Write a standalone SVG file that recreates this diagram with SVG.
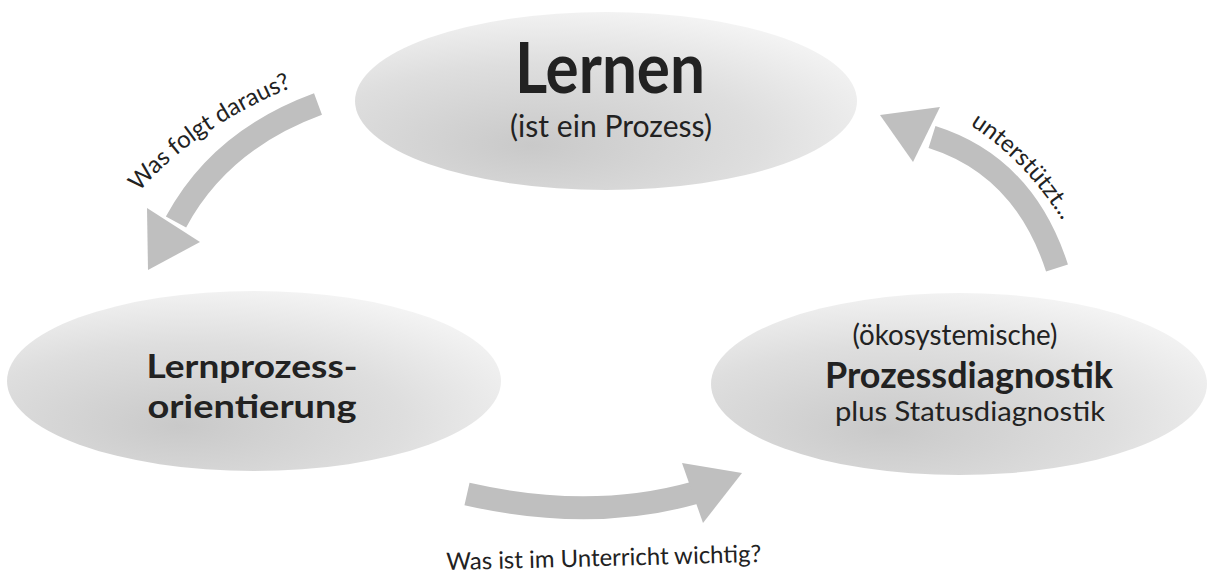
<svg xmlns="http://www.w3.org/2000/svg" width="1215" height="573" viewBox="0 0 1215 573">
  <defs>
    <radialGradient id="eg" cx="0.38" cy="0.72" r="0.8" fx="0.35" fy="0.75">
      <stop offset="0" stop-color="#c9c9c9"/>
      <stop offset="0.55" stop-color="#dedede"/>
      <stop offset="1" stop-color="#f7f7f7"/>
    </radialGradient>
    <path id="p1" d="M 139,192 Q 200,122 306,82"/>
    <path id="p2" d="M 970,125 Q 1032,165 1072,237"/>
  </defs>
  <style>
    .node { fill: url(#eg); }
    .t { font-family: Lato, "Noto Sans", sans-serif; fill: #222222; text-anchor: middle; }
    .b { font-weight: bold; }
    .lbl { font-family: Lato, "Noto Sans", sans-serif; fill: #222222; font-size: 24px; }
    .body { fill: none; stroke: #bfbfbf; stroke-width: 23; }
    .head { fill: #bfbfbf; }
  </style>
  <rect width="1215" height="573" fill="#ffffff"/>
  <g id="connectors">
    <g id="arrow-left">
      <path class="body" d="M 318,104 Q 220,140 176,222"/>
      <polygon class="head" points="147,208 200,242 148,270"/>
    </g>
    <g id="arrow-right">
      <path class="body" d="M 1057,268 Q 1024,166 932,137"/>
      <polygon class="head" points="940,107 913,162 880,115"/>
    </g>
    <g id="arrow-bottom">
      <path class="body" d="M 467,494 Q 590,522 694,493"/>
      <polygon class="head" points="682,463 703,523 742,473"/>
    </g>
    <text class="lbl"><textPath href="#p1">Was folgt daraus?</textPath></text>
    <text class="lbl"><textPath href="#p2">unterstützt...</textPath></text>
    <text class="lbl" x="604" y="566" text-anchor="middle" font-size="25" textLength="315" lengthAdjust="spacingAndGlyphs" transform="rotate(-1.5 604 566)">Was ist im Unterricht wichtig?</text>
  </g>
  <g id="node-lernen">
    <ellipse class="node" cx="606" cy="101" rx="251" ry="89"/>
    <text class="t b" x="610" y="93" font-size="70" textLength="190" lengthAdjust="spacingAndGlyphs">Lernen</text>
    <text class="t" x="611" y="137" font-size="31" textLength="202" lengthAdjust="spacingAndGlyphs">(ist ein Prozess)</text>
  </g>
  <g id="node-lernprozess">
    <ellipse class="node" cx="254" cy="381" rx="247" ry="90"/>
    <text class="t b" x="252" y="378" font-size="33" textLength="211" lengthAdjust="spacingAndGlyphs">Lernprozess-</text>
    <text class="t b" x="252" y="418" font-size="33" textLength="209" lengthAdjust="spacingAndGlyphs">orientierung</text>
  </g>
  <g id="node-diagnostik">
    <ellipse class="node" cx="959" cy="384" rx="248" ry="91"/>
    <text class="t" x="955" y="345" font-size="29" textLength="205" lengthAdjust="spacingAndGlyphs">(ökosystemische)</text>
    <text class="t b" x="969" y="388" font-size="37" textLength="288" lengthAdjust="spacingAndGlyphs">Prozessdiagnostik</text>
    <text class="t" x="970" y="421" font-size="27" textLength="270" lengthAdjust="spacingAndGlyphs">plus Statusdiagnostik</text>
  </g>
</svg>
